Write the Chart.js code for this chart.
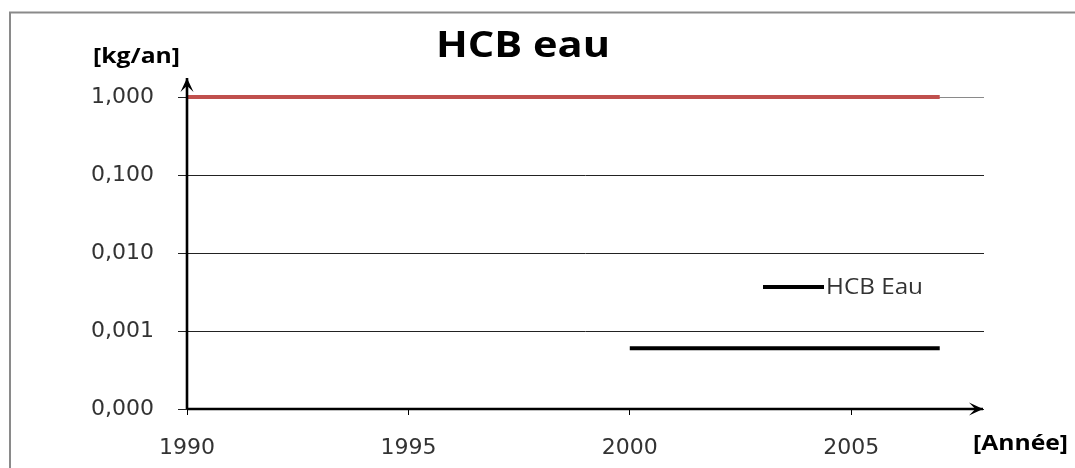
<!DOCTYPE html>
<html>
<head>
<meta charset="utf-8">
<script src="https://cdn.jsdelivr.net/npm/chart.js@4"></script>
<style>
html,body{margin:0;padding:0;background:#fff;}
#wrap{width:1075px;height:468px;position:relative;}
</style>
</head>
<body>
<div id="wrap"><canvas id="c" width="1075" height="468"></canvas></div>
<script>
// ---- data ----
const chartTitle = "HCB eau";
const yUnit = "[kg/an]";
const xUnit = "[Année]";
const redYears  = [1990,1991,1992,1993,1994,1995,1996,1997,1998,1999,2000,2001,2002,2003,2004,2005,2006,2007];
const redValues = [1,1,1,1,1,1,1,1,1,1,1,1,1,1,1,1,1,1];
const hcbLabel  = "HCB Eau";
const hcbYears  = [2000,2001,2002,2003,2004,2005,2006,2007];
const hcbValues = [0.0006,0.0006,0.0006,0.0006,0.0006,0.0006,0.0006,0.0006];
const xTicks = [1990,1995,2000,2005];
const yTicks = [0.0001,0.001,0.01,0.1,1];
const yTickLabels = ["0,000","0,001","0,010","0,100","1,000"];
const xMin = 1990, xMax = 2008;

const toPts = (xs, ys) => xs.map((x,i)=>({x:x, y:ys[i]}));

function arrow(ctx, x1, y1, x2, y2){
  ctx.beginPath(); ctx.moveTo(x1,y1); ctx.lineTo(x2,y2); ctx.stroke();
  const a = Math.atan2(y2-y1, x2-x1);
  const L = 14, W = 6.5;
  ctx.beginPath();
  ctx.moveTo(x2, y2);
  ctx.lineTo(x2 - L*Math.cos(a) + W*Math.sin(a), y2 - L*Math.sin(a) - W*Math.cos(a));
  ctx.lineTo(x2 - 0.55*L*Math.cos(a), y2 - 0.55*L*Math.sin(a));
  ctx.lineTo(x2 - L*Math.cos(a) - W*Math.sin(a), y2 - L*Math.sin(a) + W*Math.cos(a));
  ctx.closePath(); ctx.fill();
}
function fitText(ctx, txt, x, y, w, align){
  const m = ctx.measureText(txt).width;
  const sx = w / m;
  ctx.save();
  ctx.translate(x, y);
  ctx.scale(sx, 1);
  ctx.textAlign = 'left';
  const off = align === 'center' ? -m/2 : 0;
  ctx.fillText(txt, off, 0);
  ctx.restore();
}

const deco = {
  id: 'deco',
  beforeDraw(chart){
    const ctx = chart.ctx;
    ctx.save();
    ctx.fillStyle = '#fff';
    ctx.fillRect(0,0,chart.width,chart.height);
    ctx.strokeStyle = '#8a8a8a';
    ctx.lineWidth = 2;
    ctx.beginPath();
    ctx.moveTo(10, 468); ctx.lineTo(10, 12.5); ctx.lineTo(1075, 12.5);
    ctx.stroke();
    ctx.restore();
  },
  afterDatasetsDraw(chart){
    const ctx = chart.ctx, a = chart.chartArea;
    const xs = chart.scales.x, ys = chart.scales.y;
    ctx.save();
    ctx.strokeStyle = '#000'; ctx.fillStyle = '#000'; ctx.lineWidth = 2.6;
    const x0 = xs.getPixelForValue(xMin), y0 = ys.getPixelForValue(yTicks[0]);
    arrow(ctx, x0, y0, x0, a.top - 19);
    arrow(ctx, x0, y0, a.right - 1, y0);
    // titles
    ctx.fillStyle = '#000';
    ctx.textBaseline = 'alphabetic';
    ctx.font = "bold 35px 'Open Sans'";
    fitText(ctx, chartTitle, 523, 57, 174, 'center');
    ctx.font = "bold 22px 'Open Sans'";
    fitText(ctx, yUnit, 93, 63, 87, 'left');
    fitText(ctx, xUnit, 973, 450, 95, 'left');
    // legend
    ctx.strokeStyle = '#000'; ctx.lineWidth = 4;
    ctx.beginPath(); ctx.moveTo(763, 287); ctx.lineTo(824, 287); ctx.stroke();
    ctx.fillStyle = '#333';
    ctx.font = "21px 'Open Sans'";
    ctx.textBaseline = 'middle';
    fitText(ctx, hcbLabel, 826, 288, 97, 'left');
    ctx.restore();
  }
};

new Chart(document.getElementById('c'), {
  type: 'line',
  data: {
    datasets: [
      { label: '', data: toPts(redYears, redValues), borderColor: '#C0504D', borderWidth: 4,
        pointRadius: 0, fill: false, clip: false, borderCapStyle: 'butt' },
      { label: hcbLabel, data: toPts(hcbYears, hcbValues), borderColor: '#000', borderWidth: 4,
        pointRadius: 0, fill: false, clip: false, borderCapStyle: 'butt' }
    ]
  },
  options: {
    responsive: false,
    animation: false,
    devicePixelRatio: 1,
    layout: { padding: { left: 0, top: 97, right: 91, bottom: 0 } },
    plugins: { legend: { display: false }, title: { display: false }, tooltip: { enabled: false } },
    scales: {
      x: {
        type: 'linear', min: xMin, max: xMax,
        afterBuildTicks: s => { s.ticks = xTicks.map(v => ({ value: v })); },
        afterFit: s => { s.height = 59; },
        border: { display: false },
        grid: { drawOnChartArea: false, drawTicks: true, tickLength: 6, color: '#000', tickColor: '#000', lineWidth: 1 },
        ticks: { padding: 20, color: '#333', font: { family: "'DejaVu Sans'", size: 22 }, maxRotation: 0,
                 callback: v => String(v) }
      },
      y: {
        type: 'logarithmic', min: yTicks[0], max: yTicks[yTicks.length-1],
        afterBuildTicks: s => { s.ticks = yTicks.map(v => ({ value: v })); },
        afterFit: s => { s.width = 187; },
        border: { display: false },
        grid: { drawTicks: true, tickLength: 9, lineWidth: 1,
                color: c => (c.tick && c.tick.value === 1) ? '#8a8a8a' : '#222',
                tickColor: '#222' },
        ticks: { padding: 24, color: '#333', font: { family: "'DejaVu Sans'", size: 22 },
                 callback: (v) => { const i = yTicks.indexOf(v); return i >= 0 ? yTickLabels[i] : ''; } }
      }
    }
  },
  plugins: [deco]
});
</script>
</body>
</html>
